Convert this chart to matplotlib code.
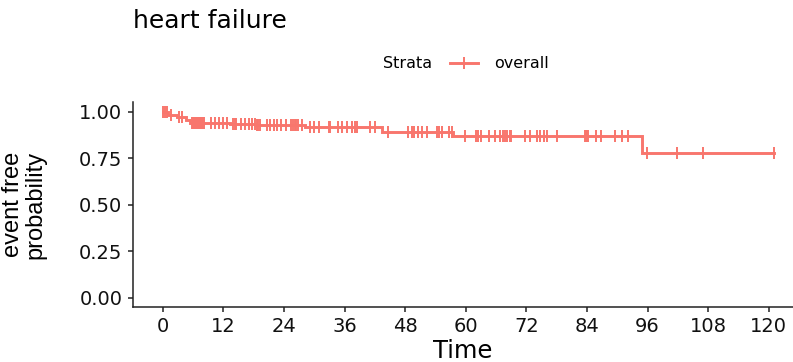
import numpy as np
import matplotlib
matplotlib.use("Agg")
import matplotlib.pyplot as plt
from matplotlib.lines import Line2D

plt.rcParams['font.family'] = ['DejaVu Sans']

# ---- data ----
title = "heart failure"
strata_label = "overall"
step_times = [0.0, 1.1, 2.8, 4.6, 5.5, 13.3, 18.5, 28.2, 43.4, 57.5, 94.85]
step_surv = [1.000, 0.982, 0.970, 0.955, 0.940, 0.933, 0.926, 0.916, 0.893, 0.871, 0.777]
end_time = 121.1
censor_times = [0.1, 0.5, 0.9, 1.6, 3.2, 3.9, 5.8, 6.0, 6.2, 6.4, 6.6, 6.8, 7.0, 7.2,
                7.4, 7.6, 7.8, 8.0, 8.2, 9.5, 10.4, 11.2, 12.0, 12.7, 14.0, 14.3, 14.6,
                15.6, 16.3, 17.0, 17.7, 18.3, 18.6, 18.9, 19.2, 20.6, 21.2, 22.0, 22.6,
                23.4, 24.4, 25.5, 25.8, 26.1, 26.4, 26.7, 27.5, 29.2, 29.9, 30.9, 32.9,
                33.1, 34.8, 35.6, 36.5, 37.4, 38.1, 38.5, 41.0, 42.0, 44.7, 48.6, 49.3,
                49.8, 50.6, 51.3, 52.3, 54.3, 54.8, 55.3, 56.6, 57.2, 59.9, 62.1, 62.4,
                63.1, 64.7, 65.7, 66.7, 67.3, 67.7, 68.2, 68.7, 69.0, 71.7, 72.8, 74.1,
                74.8, 75.5, 76.1, 78.0, 83.6, 83.8, 84.0, 84.3, 85.7, 86.7, 89.6, 90.9,
                92.2, 95.8, 101.8, 106.9, 121.1]
x_ticks = [0, 12, 24, 36, 48, 60, 72, 84, 96, 108, 120]
y_ticks = [0.00, 0.25, 0.50, 0.75, 1.00]
y_ticklabels = ["0.00", "0.25", "0.50", "0.75", "1.00"]

color = "#F8766D"

fig = plt.figure(figsize=(7.93, 3.62), dpi=100)
ax = fig.add_axes([132.7 / 793, 1 - 307 / 362, 1 - 132.7 / 793, (307 - 102.4) / 362])

t = np.array(step_times + [end_time])
s = np.array(step_surv + [step_surv[-1]])
ax.step(t, s, where='post', color=color, lw=2.1, solid_joinstyle='miter')

ct = np.array(censor_times)
idx = np.searchsorted(np.array(step_times), ct, side='right') - 1
cs = np.array(step_surv)[idx]
ax.plot(ct, cs, linestyle='none', marker='|', markersize=9, mew=1.4, color=color)

ax.set_xlim(-5.94, 124.8)
ax.set_ylim(-0.05, 1.05)
ax.set_xticks(x_ticks)
ax.set_yticks(y_ticks)
ax.set_yticklabels(y_ticklabels)
for sp in ['top', 'right']:
    ax.spines[sp].set_visible(False)
for sp in ['left', 'bottom']:
    ax.spines[sp].set_linewidth(1.1)
    ax.spines[sp].set_color('#222222')
ax.tick_params(axis='both', labelsize=14, length=3.5, width=1.1, color='#222222',
               labelcolor='#111111', pad=4)

ax.set_xlabel("Time", fontsize=17.5)
ax.xaxis.label.set_va('baseline')
ax.xaxis.set_label_coords(0.5, (307 - 358) / 204.6)

ax.set_ylabel("event free\nprobability", fontsize=17, family=['Liberation Sans', 'DejaVu Sans'],
              linespacing=1.0)
ax.yaxis.set_label_coords((46 - 132.7) / 660.3, 0.5)

fig.text(133 / 793, 1 - 28.3 / 362, title, fontsize=18, va='baseline', ha='left')

fig.text(383 / 793, 1 - 64 / 362, "Strata", fontsize=11.5, va='center', ha='left')
handle = Line2D([], [], color=color, lw=2.1, marker='|', markersize=9, mew=1.4)
fig.legend(handles=[handle], labels=[strata_label], loc='center left',
           bbox_to_anchor=(450 / 793, 1 - 64 / 362), frameon=False, fontsize=11.5,
           handlelength=1.75, handletextpad=1.0, borderpad=0, borderaxespad=0)

fig.savefig("out.png", dpi=100)
